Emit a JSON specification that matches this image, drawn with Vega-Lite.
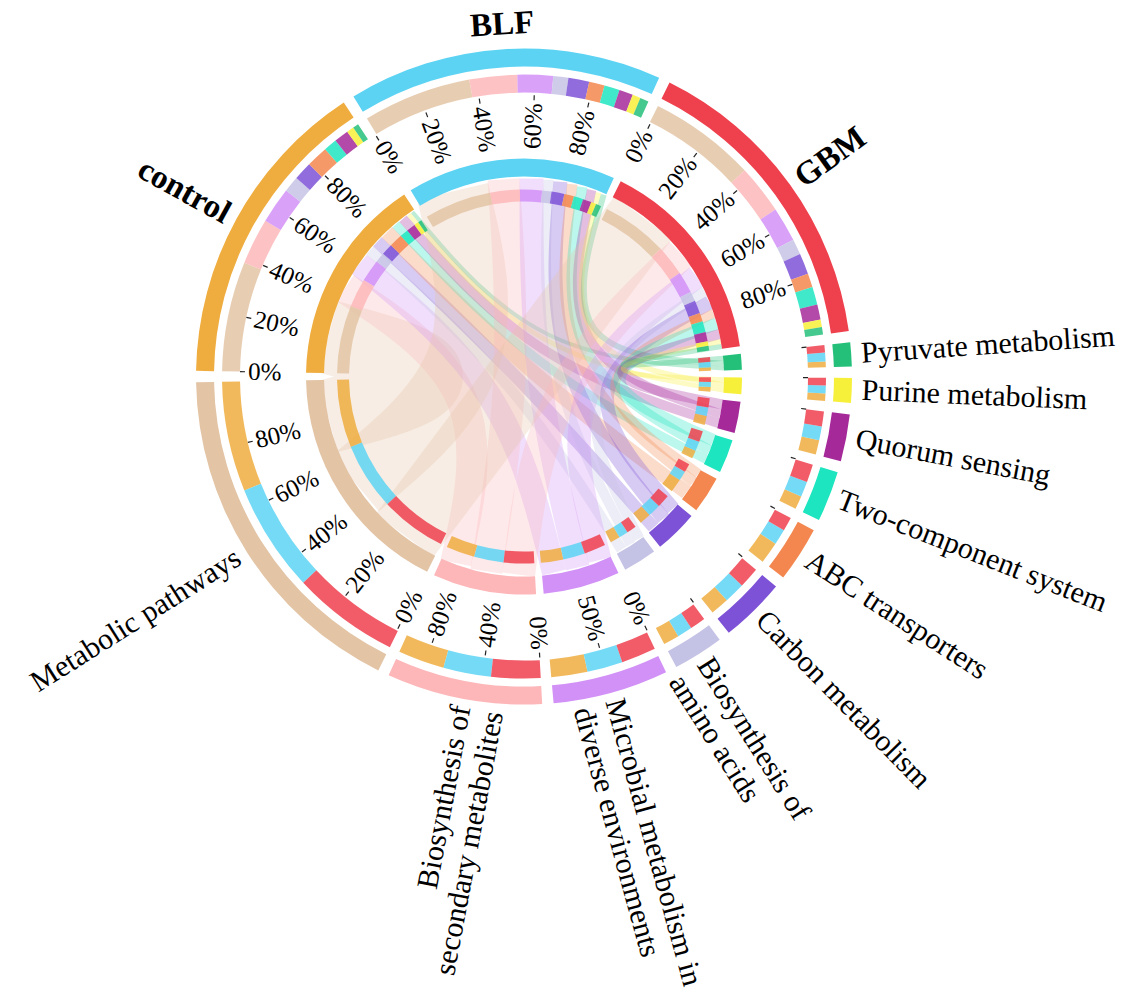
{
  "$schema": "https://vega.github.io/schema/vega-lite/v6.json",
  "width": 1127,
  "height": 996,
  "autosize": {"type": "fit", "contains": "padding"},
  "padding": 0,
  "background": "white",
  "config": {"view": {"stroke": null}},
  "datasets": {
    "flows": [
      {"g": "control", "p": "Metabolic pathways", "v": 38},
      {"g": "control", "p": "Biosynthesis of secondary metabolites", "v": 16},
      {"g": "control", "p": "Microbial metabolism in diverse environments", "v": 12.5},
      {"g": "control", "p": "Biosynthesis of amino acids", "v": 5.5},
      {"g": "control", "p": "Carbon metabolism", "v": 6.4},
      {"g": "control", "p": "ABC transporters", "v": 7.5},
      {"g": "control", "p": "Two-component system", "v": 4.6},
      {"g": "control", "p": "Quorum sensing", "v": 5.0},
      {"g": "control", "p": "Purine metabolism", "v": 2.5},
      {"g": "control", "p": "Pyruvate metabolism", "v": 2.0},
      {"g": "BLF", "p": "Metabolic pathways", "v": 37.5},
      {"g": "BLF", "p": "Biosynthesis of secondary metabolites", "v": 16.5},
      {"g": "BLF", "p": "Microbial metabolism in diverse environments", "v": 12.3},
      {"g": "BLF", "p": "Biosynthesis of amino acids", "v": 5.2},
      {"g": "BLF", "p": "Carbon metabolism", "v": 7.2},
      {"g": "BLF", "p": "ABC transporters", "v": 5.4},
      {"g": "BLF", "p": "Two-component system", "v": 5.3},
      {"g": "BLF", "p": "Quorum sensing", "v": 4.8},
      {"g": "BLF", "p": "Purine metabolism", "v": 2.8},
      {"g": "BLF", "p": "Pyruvate metabolism", "v": 3.0},
      {"g": "GBM", "p": "Metabolic pathways", "v": 37},
      {"g": "GBM", "p": "Biosynthesis of secondary metabolites", "v": 17},
      {"g": "GBM", "p": "Microbial metabolism in diverse environments", "v": 12},
      {"g": "GBM", "p": "Biosynthesis of amino acids", "v": 5.4},
      {"g": "GBM", "p": "Carbon metabolism", "v": 7.2},
      {"g": "GBM", "p": "ABC transporters", "v": 4.8},
      {"g": "GBM", "p": "Two-component system", "v": 6.2},
      {"g": "GBM", "p": "Quorum sensing", "v": 5.2},
      {"g": "GBM", "p": "Purine metabolism", "v": 2.6},
      {"g": "GBM", "p": "Pyruvate metabolism", "v": 2.6}
    ],
    "ticks": [
      {"s": "control", "pcts": [0, 20, 40, 60, 80], "labs": ["0%", "20%", "40%", "60%", "80%"]},
      {"s": "BLF", "pcts": [0, 20, 40, 60, 80], "labs": ["0%", "20%", "40%", "60%", "80%"]},
      {"s": "GBM", "pcts": [0, 20, 40, 60, 80], "labs": ["0%", "20%", "40%", "60%", "80%"]},
      {"s": "Metabolic pathways", "pcts": [0, 20, 40, 60, 80], "labs": ["0%", "20%", "40%", "60%", "80%"]},
      {"s": "Biosynthesis of secondary metabolites", "pcts": [0, 40, 80], "labs": ["0%", "40%", "80%"]},
      {"s": "Microbial metabolism in diverse environments", "pcts": [0, 50], "labs": ["0%", "50%"]},
      {"s": "Biosynthesis of amino acids", "pcts": [0], "labs": [""]},
      {"s": "Carbon metabolism", "pcts": [0], "labs": [""]},
      {"s": "ABC transporters", "pcts": [0], "labs": [""]},
      {"s": "Two-component system", "pcts": [0], "labs": [""]},
      {"s": "Quorum sensing", "pcts": [0], "labs": [""]},
      {"s": "Purine metabolism", "pcts": [0], "labs": [""]},
      {"s": "Pyruvate metabolism", "pcts": [0], "labs": [""]}
    ]
  },
  "data": {"name": "flows"},
  "transform": [
    {"calculate": "indexof(['control','BLF','GBM'], datum.g)", "as": "gi"},
    {"calculate": "indexof(['Metabolic pathways','Biosynthesis of secondary metabolites','Microbial metabolism in diverse environments','Biosynthesis of amino acids','Carbon metabolism','ABC transporters','Two-component system','Quorum sensing','Purine metabolism','Pyruvate metabolism'], datum.p)", "as": "pi"},
    {"window": [{"op": "sum", "field": "v", "as": "gc"}], "sort": [{"field": "gi", "order": "ascending"}, {"field": "pi", "order": "ascending"}]},
    {"window": [{"op": "sum", "field": "v", "as": "pc"}], "sort": [{"field": "pi", "order": "descending"}, {"field": "gi", "order": "descending"}]},
    {"joinaggregate": [{"op": "sum", "field": "v", "as": "T"}]},
    {"calculate": "(360 - 13*2)/(2*datum.T)", "as": "K"},
    {"calculate": "271 + datum.K*(datum.gc - datum.v) + 2*datum.gi", "as": "ga0"},
    {"calculate": "datum.ga0 + datum.K*datum.v", "as": "ga1"},
    {"calculate": "271 + datum.K*datum.T + 6 + datum.K*(datum.pc - datum.v) + 2*(9 - datum.pi)", "as": "pa0"},
    {"calculate": "datum.pa0 + datum.K*datum.v", "as": "pa1"}
  ],
  "layer": [
    {
      "transform": [
        {"calculate": "(datum.ga0+datum.ga1)/2*PI/180", "as": "t1"},
        {"calculate": "(datum.pa0+datum.pa1)/2*PI/180", "as": "t2"},
        {"calculate": "datum.K*datum.v*PI/180*200", "as": "w"},
        {"calculate": "datum.g + '|' + datum.p", "as": "id"},
        {"calculate": "[{o:0,x:200*sin(datum.t1),y:200*cos(datum.t1)},{o:1,x:25*(sin(datum.t1)+sin(datum.t2)),y:25*(cos(datum.t1)+cos(datum.t2))},{o:2,x:200*sin(datum.t2),y:200*cos(datum.t2)}]", "as": "pts"},
        {"flatten": ["pts"]},
        {"calculate": "datum.pts.o", "as": "o"},
        {"calculate": "datum.pts.x", "as": "px"},
        {"calculate": "datum.pts.y", "as": "py"}
      ],
      "mark": {"type": "line", "interpolate": "basis", "strokeCap": "butt", "opacity": 0.3},
      "encoding": {
        "x": {"field": "px", "type": "quantitative", "scale": {"domain": [-524, 603], "nice": false, "zero": false}, "axis": null},
        "y": {"field": "py", "type": "quantitative", "scale": {"domain": [-616, 380], "nice": false, "zero": false}, "axis": null},
        "detail": {"field": "id"},
        "order": {"field": "o", "type": "quantitative"},
        "color": {"field": "p", "type": "nominal", "legend": null,
          "scale": {"domain": ["control","BLF","GBM","Metabolic pathways","Biosynthesis of secondary metabolites","Microbial metabolism in diverse environments","Biosynthesis of amino acids","Carbon metabolism","ABC transporters","Two-component system","Quorum sensing","Purine metabolism","Pyruvate metabolism"],
                    "range": ["#EFAD3F","#5DD3F3","#EF404D","#E3C4A5","#FDB7B9","#D291F6","#C5C3E5","#7E52D6","#F3874F","#1DE5BF","#A6299A","#F7F03A","#24C07A"]}},
        "strokeWidth": {"field": "w", "type": "quantitative", "scale": null, "legend": null}
      }
    },
    {
      "transform": [
        {"fold": ["g", "p"], "as": ["role", "name"]},
        {"calculate": "datum.role==='g' ? datum.ga0 : datum.pa0", "as": "a0"},
        {"calculate": "datum.role==='g' ? datum.ga1 : datum.pa1", "as": "a1"},
        {"calculate": "datum.role==='g' ? datum.p : datum.g", "as": "col"}
      ],
      "mark": {"type": "arc", "radius": 187, "radius2": 175, "opacity": 0.85},
      "encoding": {
        "x": {"datum": 0, "type": "quantitative", "scale": {"domain": [-524, 603], "nice": false, "zero": false}, "axis": null},
        "y": {"datum": 0, "type": "quantitative", "scale": {"domain": [-616, 380], "nice": false, "zero": false}, "axis": null},
        "theta": {"field": "a0", "type": "quantitative", "scale": {"domain": [0, 360], "range": [0, 6.283185307179586]}},
        "theta2": {"field": "a1"},
        "color": {"field": "col", "type": "nominal", "legend": null,
          "scale": {"domain": ["control","BLF","GBM","Metabolic pathways","Biosynthesis of secondary metabolites","Microbial metabolism in diverse environments","Biosynthesis of amino acids","Carbon metabolism","ABC transporters","Two-component system","Quorum sensing","Purine metabolism","Pyruvate metabolism"],
                    "range": ["#EFAD3F","#5DD3F3","#EF404D","#E3C4A5","#FDB7B9","#D291F6","#C5C3E5","#7E52D6","#F3874F","#1DE5BF","#A6299A","#F7F03A","#24C07A"]}}
      }
    },
    {
      "transform": [
        {"fold": ["g", "p"], "as": ["role", "name"]},
        {"calculate": "datum.role==='g' ? datum.ga0 : datum.pa0", "as": "a0"},
        {"calculate": "datum.role==='g' ? datum.ga1 : datum.pa1", "as": "a1"},
        {"calculate": "datum.role==='g' ? datum.p : datum.g", "as": "col"}
      ],
      "mark": {"type": "arc", "radius": 302, "radius2": 284, "opacity": 0.85},
      "encoding": {
        "x": {"datum": 0, "type": "quantitative", "scale": {"domain": [-524, 603], "nice": false, "zero": false}, "axis": null},
        "y": {"datum": 0, "type": "quantitative", "scale": {"domain": [-616, 380], "nice": false, "zero": false}, "axis": null},
        "theta": {"field": "a0", "type": "quantitative", "scale": {"domain": [0, 360], "range": [0, 6.283185307179586]}},
        "theta2": {"field": "a1"},
        "color": {"field": "col", "type": "nominal", "legend": null,
          "scale": {"domain": ["control","BLF","GBM","Metabolic pathways","Biosynthesis of secondary metabolites","Microbial metabolism in diverse environments","Biosynthesis of amino acids","Carbon metabolism","ABC transporters","Two-component system","Quorum sensing","Purine metabolism","Pyruvate metabolism"],
                    "range": ["#EFAD3F","#5DD3F3","#EF404D","#E3C4A5","#FDB7B9","#D291F6","#C5C3E5","#7E52D6","#F3874F","#1DE5BF","#A6299A","#F7F03A","#24C07A"]}}
      }
    },
    {
      "transform": [
        {"fold": ["g", "p"], "as": ["role", "name"]},
        {"calculate": "datum.role==='g' ? datum.ga0 : datum.pa0", "as": "a0"},
        {"calculate": "datum.role==='g' ? datum.ga1 : datum.pa1", "as": "a1"},
        {"aggregate": [{"op": "min", "field": "a0", "as": "s0"}, {"op": "max", "field": "a1", "as": "s1"}], "groupby": ["name", "role"]}
      ],
      "mark": {"type": "arc", "radius": 218, "radius2": 200},
      "encoding": {
        "x": {"datum": 0, "type": "quantitative", "scale": {"domain": [-524, 603], "nice": false, "zero": false}, "axis": null},
        "y": {"datum": 0, "type": "quantitative", "scale": {"domain": [-616, 380], "nice": false, "zero": false}, "axis": null},
        "theta": {"field": "s0", "type": "quantitative", "scale": {"domain": [0, 360], "range": [0, 6.283185307179586]}},
        "theta2": {"field": "s1"},
        "color": {"field": "name", "type": "nominal", "legend": null,
          "scale": {"domain": ["control","BLF","GBM","Metabolic pathways","Biosynthesis of secondary metabolites","Microbial metabolism in diverse environments","Biosynthesis of amino acids","Carbon metabolism","ABC transporters","Two-component system","Quorum sensing","Purine metabolism","Pyruvate metabolism"],
                    "range": ["#EFAD3F","#5DD3F3","#EF404D","#E3C4A5","#FDB7B9","#D291F6","#C5C3E5","#7E52D6","#F3874F","#1DE5BF","#A6299A","#F7F03A","#24C07A"]}}
      }
    },
    {
      "transform": [
        {"fold": ["g", "p"], "as": ["role", "name"]},
        {"calculate": "datum.role==='g' ? datum.ga0 : datum.pa0", "as": "a0"},
        {"calculate": "datum.role==='g' ? datum.ga1 : datum.pa1", "as": "a1"},
        {"aggregate": [{"op": "min", "field": "a0", "as": "s0"}, {"op": "max", "field": "a1", "as": "s1"}], "groupby": ["name", "role"]}
      ],
      "mark": {"type": "arc", "radius": 328, "radius2": 310},
      "encoding": {
        "x": {"datum": 0, "type": "quantitative", "scale": {"domain": [-524, 603], "nice": false, "zero": false}, "axis": null},
        "y": {"datum": 0, "type": "quantitative", "scale": {"domain": [-616, 380], "nice": false, "zero": false}, "axis": null},
        "theta": {"field": "s0", "type": "quantitative", "scale": {"domain": [0, 360], "range": [0, 6.283185307179586]}},
        "theta2": {"field": "s1"},
        "color": {"field": "name", "type": "nominal", "legend": null,
          "scale": {"domain": ["control","BLF","GBM","Metabolic pathways","Biosynthesis of secondary metabolites","Microbial metabolism in diverse environments","Biosynthesis of amino acids","Carbon metabolism","ABC transporters","Two-component system","Quorum sensing","Purine metabolism","Pyruvate metabolism"],
                    "range": ["#EFAD3F","#5DD3F3","#EF404D","#E3C4A5","#FDB7B9","#D291F6","#C5C3E5","#7E52D6","#F3874F","#1DE5BF","#A6299A","#F7F03A","#24C07A"]}}
      }
    },
    {
      "transform": [
        {"fold": ["g", "p"], "as": ["role", "name"]},
        {"calculate": "datum.role==='g' ? datum.ga0 : datum.pa0", "as": "a0"},
        {"calculate": "datum.role==='g' ? datum.ga1 : datum.pa1", "as": "a1"},
        {"aggregate": [{"op": "min", "field": "a0", "as": "s0"}, {"op": "max", "field": "a1", "as": "s1"}], "groupby": ["name", "role"]},
        {"lookup": "name", "from": {"data": {"name": "ticks"}, "key": "s", "fields": ["pcts", "labs"]}},
        {"flatten": ["pcts", "labs"]},
        {"calculate": "(datum.s0 + datum.pcts/100*(datum.s1 - datum.s0))*PI/180", "as": "tr"},
        {"calculate": "279*sin(datum.tr)", "as": "tx"},
        {"calculate": "279*cos(datum.tr)", "as": "ty"},
        {"calculate": "284*sin(datum.tr)", "as": "tx2"},
        {"calculate": "284*cos(datum.tr)", "as": "ty2"}
      ],
      "mark": {"type": "rule", "color": "#222222", "strokeWidth": 1.2},
      "encoding": {
        "x": {"field": "tx", "type": "quantitative", "scale": {"domain": [-524, 603], "nice": false, "zero": false}, "axis": null},
        "y": {"field": "ty", "type": "quantitative", "scale": {"domain": [-616, 380], "nice": false, "zero": false}, "axis": null},
        "x2": {"field": "tx2"},
        "y2": {"field": "ty2"}
      }
    },
    {
      "transform": [
        {"fold": ["g", "p"], "as": ["role", "name"]},
        {"calculate": "datum.role==='g' ? datum.ga0 : datum.pa0", "as": "a0"},
        {"calculate": "datum.role==='g' ? datum.ga1 : datum.pa1", "as": "a1"},
        {"aggregate": [{"op": "min", "field": "a0", "as": "s0"}, {"op": "max", "field": "a1", "as": "s1"}], "groupby": ["name", "role"]},
        {"lookup": "name", "from": {"data": {"name": "ticks"}, "key": "s", "fields": ["pcts", "labs"]}},
        {"flatten": ["pcts", "labs"]},
        {"calculate": "((datum.s0 + datum.pcts/100*(datum.s1 - datum.s0)) % 360 + 360) % 360", "as": "m"},
        {"filter": "datum.m < 180 && datum.labs !== ''"},
        {"calculate": "276*sin(datum.m*PI/180)", "as": "lx"},
        {"calculate": "276*cos(datum.m*PI/180)", "as": "ly"},
        {"calculate": "datum.m - 90", "as": "ta"}
      ],
      "mark": {"type": "text", "align": "right", "baseline": "middle", "font": "Liberation Serif", "fontSize": 25, "color": "black"},
      "encoding": {
        "x": {"field": "lx", "type": "quantitative", "scale": {"domain": [-524, 603], "nice": false, "zero": false}, "axis": null},
        "y": {"field": "ly", "type": "quantitative", "scale": {"domain": [-616, 380], "nice": false, "zero": false}, "axis": null},
        "text": {"field": "labs"},
        "angle": {"field": "ta", "type": "quantitative", "scale": null}
      }
    },
    {
      "transform": [
        {"fold": ["g", "p"], "as": ["role", "name"]},
        {"calculate": "datum.role==='g' ? datum.ga0 : datum.pa0", "as": "a0"},
        {"calculate": "datum.role==='g' ? datum.ga1 : datum.pa1", "as": "a1"},
        {"aggregate": [{"op": "min", "field": "a0", "as": "s0"}, {"op": "max", "field": "a1", "as": "s1"}], "groupby": ["name", "role"]},
        {"lookup": "name", "from": {"data": {"name": "ticks"}, "key": "s", "fields": ["pcts", "labs"]}},
        {"flatten": ["pcts", "labs"]},
        {"calculate": "((datum.s0 + datum.pcts/100*(datum.s1 - datum.s0)) % 360 + 360) % 360", "as": "m"},
        {"filter": "datum.m >= 180 && datum.labs !== ''"},
        {"calculate": "276*sin(datum.m*PI/180)", "as": "lx"},
        {"calculate": "276*cos(datum.m*PI/180)", "as": "ly"},
        {"calculate": "datum.m - 270", "as": "ta"}
      ],
      "mark": {"type": "text", "align": "left", "baseline": "middle", "font": "Liberation Serif", "fontSize": 25, "color": "black"},
      "encoding": {
        "x": {"field": "lx", "type": "quantitative", "scale": {"domain": [-524, 603], "nice": false, "zero": false}, "axis": null},
        "y": {"field": "ly", "type": "quantitative", "scale": {"domain": [-616, 380], "nice": false, "zero": false}, "axis": null},
        "text": {"field": "labs"},
        "angle": {"field": "ta", "type": "quantitative", "scale": null}
      }
    },
    {
      "transform": [
        {"fold": ["g", "p"], "as": ["role", "name"]},
        {"filter": "datum.role === 'p'"},
        {"aggregate": [{"op": "min", "field": "pa0", "as": "s0"}, {"op": "max", "field": "pa1", "as": "s1"}], "groupby": ["name"]},
        {"calculate": "(((datum.s0 + datum.s1)/2) % 360 + 360) % 360", "as": "m"},
        {"filter": "datum.m < 180"},
        {"calculate": "338*sin(datum.m*PI/180)", "as": "lx"},
        {"calculate": "338*cos(datum.m*PI/180)", "as": "ly"},
        {"calculate": "datum.m - 90", "as": "ta"},
        {"calculate": "replace(datum.name, regexp(' (?=secondary|amino|diverse)'), '\\n')", "as": "lab"}
      ],
      "mark": {"type": "text", "align": "left", "baseline": "middle", "font": "Liberation Serif", "fontSize": 30, "lineHeight": 33, "lineBreak": "\n", "color": "black"},
      "encoding": {
        "x": {"field": "lx", "type": "quantitative", "scale": {"domain": [-524, 603], "nice": false, "zero": false}, "axis": null},
        "y": {"field": "ly", "type": "quantitative", "scale": {"domain": [-616, 380], "nice": false, "zero": false}, "axis": null},
        "text": {"field": "lab"},
        "angle": {"field": "ta", "type": "quantitative", "scale": null}
      }
    },
    {
      "transform": [
        {"fold": ["g", "p"], "as": ["role", "name"]},
        {"filter": "datum.role === 'p'"},
        {"aggregate": [{"op": "min", "field": "pa0", "as": "s0"}, {"op": "max", "field": "pa1", "as": "s1"}], "groupby": ["name"]},
        {"calculate": "(((datum.s0 + datum.s1)/2) % 360 + 360) % 360", "as": "m"},
        {"filter": "datum.m >= 180"},
        {"calculate": "338*sin(datum.m*PI/180)", "as": "lx"},
        {"calculate": "338*cos(datum.m*PI/180)", "as": "ly"},
        {"calculate": "datum.m - 270", "as": "ta"},
        {"calculate": "replace(datum.name, regexp(' (?=secondary|amino|diverse)'), '\\n')", "as": "lab"}
      ],
      "mark": {"type": "text", "align": "right", "baseline": "middle", "font": "Liberation Serif", "fontSize": 30, "lineHeight": 33, "lineBreak": "\n", "color": "black"},
      "encoding": {
        "x": {"field": "lx", "type": "quantitative", "scale": {"domain": [-524, 603], "nice": false, "zero": false}, "axis": null},
        "y": {"field": "ly", "type": "quantitative", "scale": {"domain": [-616, 380], "nice": false, "zero": false}, "axis": null},
        "text": {"field": "lab"},
        "angle": {"field": "ta", "type": "quantitative", "scale": null}
      }
    },
    {
      "transform": [
        {"fold": ["g", "p"], "as": ["role", "name"]},
        {"filter": "datum.role === 'g'"},
        {"aggregate": [{"op": "min", "field": "ga0", "as": "s0"}, {"op": "max", "field": "ga1", "as": "s1"}], "groupby": ["name"]},
        {"calculate": "(((datum.s0 + datum.s1)/2) % 360 + 360) % 360", "as": "m"},
        {"calculate": "datum.name === 'BLF' ? 356 : (datum.name === 'GBM' ? 378 : 388)", "as": "r"},
        {"calculate": "datum.r*sin(datum.m*PI/180)", "as": "lx"},
        {"calculate": "datum.r*cos(datum.m*PI/180)", "as": "ly"},
        {"calculate": "datum.name === 'BLF' ? datum.m - 360 : (datum.m < 180 ? datum.m - 90 : datum.m - 270)", "as": "ta"}
      ],
      "mark": {"type": "text", "align": "center", "baseline": "middle", "font": "Liberation Serif", "fontSize": 33, "fontWeight": "bold", "color": "black"},
      "encoding": {
        "x": {"field": "lx", "type": "quantitative", "scale": {"domain": [-524, 603], "nice": false, "zero": false}, "axis": null},
        "y": {"field": "ly", "type": "quantitative", "scale": {"domain": [-616, 380], "nice": false, "zero": false}, "axis": null},
        "text": {"field": "name"},
        "angle": {"field": "ta", "type": "quantitative", "scale": null}
      }
    }
  ]
}
